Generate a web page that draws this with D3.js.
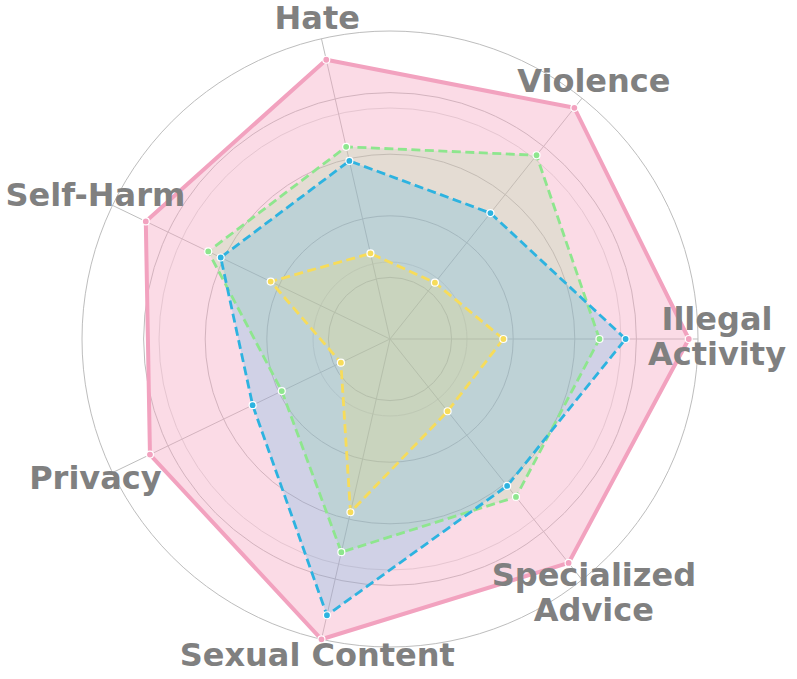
<!DOCTYPE html>
<html>
<head>
<meta charset="utf-8">
<script src="https://cdn.jsdelivr.net/npm/d3@7"></script>
<style>
  body { margin: 0; background: #fff; }
  svg { display: block; }
</style>
</head>
<body>
<svg id="chart"></svg>
<script>
// categories, counter-clockwise starting at the right
const categories = ["Illegal Activity", "Violence", "Hate", "Self-Harm", "Privacy", "Sexual Content", "Specialized Advice"];

// series values (0..1)
const pinkValues   = [0.97, 0.96, 0.93, 0.88, 0.865, 1.0, 0.93];
const greenValues  = [0.68, 0.763, 0.64, 0.655, 0.39, 0.71, 0.656];
const blueValues   = [0.765, 0.523, 0.593, 0.61, 0.495, 0.92, 0.61];
const yellowValues = [0.368, 0.234, 0.285, 0.43, 0.177, 0.577, 0.30];

const gridLevels  = [0.2, 0.4, 0.6, 0.8, 1.0];
const minorLevels = [0.25, 0.75];

const w = 797, h = 679;
const cx = 390, cy = 339;
const R = 308;

const svg = d3.select("#chart").attr("width", w).attr("height", h);
const g = svg.append("g").attr("transform", `translate(${cx},${cy})`);

const rScale = d3.scaleLinear().domain([0, 1]).range([0, R]);
const n = categories.length;
// d3 radial angle: clockwise from 12 o'clock
const angle = i => Math.PI / 2 - i * 2 * Math.PI / n;

// grid
g.selectAll(".minor").data(minorLevels).join("circle")
  .attr("class", "minor")
  .attr("r", d => rScale(d))
  .attr("fill", "none")
  .attr("stroke", "#dcdcdc")
  .attr("stroke-width", 1);

g.selectAll(".major").data(gridLevels).join("circle")
  .attr("class", "major")
  .attr("r", d => rScale(d))
  .attr("fill", "none")
  .attr("stroke", "#bdbdbd")
  .attr("stroke-width", 1);

g.selectAll(".spoke").data(categories).join("line")
  .attr("class", "spoke")
  .attr("x1", 0).attr("y1", 0)
  .attr("x2", (d, i) => rScale(1) * Math.sin(angle(i)))
  .attr("y2", (d, i) => -rScale(1) * Math.cos(angle(i)))
  .attr("stroke", "#bdbdbd")
  .attr("stroke-width", 1);

const series = [
  { values: pinkValues,   stroke: "#f2a2bf", fill: "#f4a6c0", fillOp: 0.4,  width: 4,   dash: null },
  { values: greenValues,  stroke: "#8ee68e", fill: "#90e090", fillOp: 0.22, width: 2.8, dash: "9,4.5" },
  { values: blueValues,   stroke: "#2db3e0", fill: "#2aa8e6", fillOp: 0.2,  width: 2.8, dash: "9,4.5" },
  { values: yellowValues, stroke: "#f7dc5a", fill: "#f2dc6a", fillOp: 0.22, width: 2.8, dash: "9,4.5" }
];

const radial = d3.lineRadial()
  .angle((d, i) => angle(i))
  .radius(d => rScale(d))
  .curve(d3.curveLinearClosed);

series.forEach(s => {
  g.append("path")
    .datum(s.values)
    .attr("d", radial)
    .attr("fill", s.fill)
    .attr("fill-opacity", s.fillOp)
    .attr("stroke", "none");
});

series.forEach(s => {
  g.append("path")
    .datum(s.values)
    .attr("d", radial)
    .attr("fill", "none")
    .attr("stroke", s.stroke)
    .attr("stroke-width", s.width)
    .attr("stroke-dasharray", s.dash)
    .attr("stroke-linejoin", "round");

  g.selectAll(null).data(s.values).join("circle")
    .attr("cx", (d, i) => rScale(d) * Math.sin(angle(i)))
    .attr("cy", (d, i) => -rScale(d) * Math.cos(angle(i)))
    .attr("r", 3.5)
    .attr("fill", s.stroke)
    .attr("stroke", "#fff")
    .attr("stroke-width", 1.2);
});

// labels
const labelR = 327;
const lineH = 35;
categories.forEach((c, i) => {
  const words = c === "Illegal Activity" || c === "Specialized Advice" ? c.split(" ") : [c];
  const x = labelR * Math.sin(angle(i));
  const y = -labelR * Math.cos(angle(i)) - 2.5;
  const t = g.append("text")
    .attr("x", x)
    .attr("y", y - (words.length - 1) * lineH / 2)
    .attr("text-anchor", "middle")
    .attr("dominant-baseline", "central")
    .style("font-family", "'DejaVu Sans', sans-serif")
    .style("font-weight", "bold")
    .style("font-size", "32px")
    .attr("fill", "#808080");
  words.forEach((wd, k) => {
    t.append("tspan")
      .attr("x", x)
      .attr("dy", k === 0 ? 0 : lineH)
      .text(wd);
  });
});
</script>
</body>
</html>
